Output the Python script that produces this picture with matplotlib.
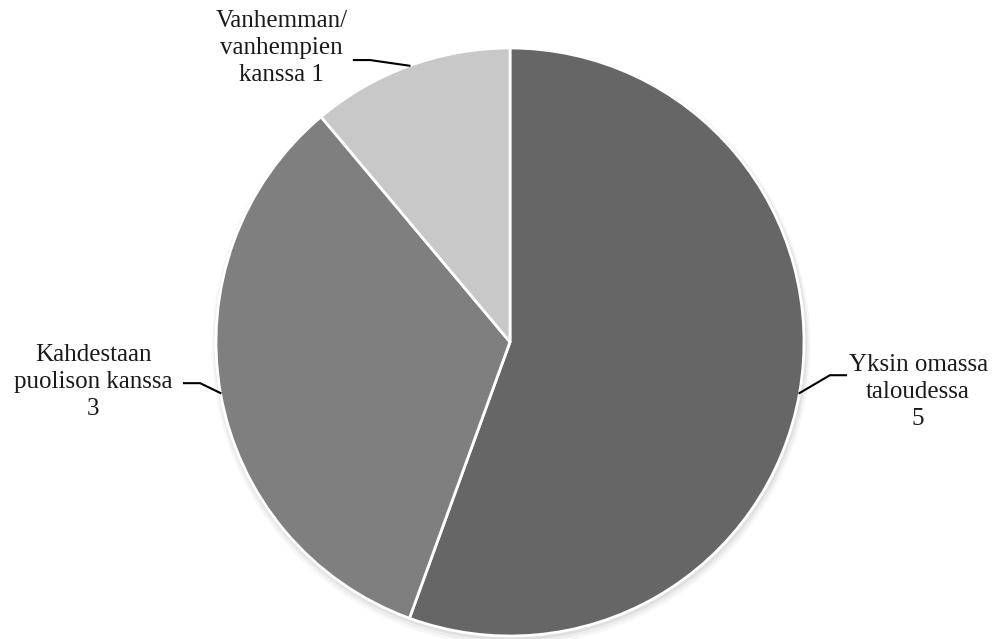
import matplotlib.pyplot as plt
import numpy as np

labels = ['Yksin omassa\ntaloudessa\n5', 'Kahdestaan\npuolison kanssa\n3', 'Vanhemman/\nvanhempien\nkanssa 1']
values = [5, 3, 1]
colors = ['#666666', '#7f7f7f', '#c8c8c8']

# label placement (data units, radius = 1) and elbow points
text_pos = [(1.388, -0.17), (-1.417, -0.135), (-0.777, 1.0)]
elbow = [(1.088, -0.113), (-1.054, -0.14), (-0.476, 0.959)]

W, H = 994, 639
fig = plt.figure(figsize=(W / 100, H / 100), dpi=100)
cx, cy, R = 510, 342, 294
ax = fig.add_axes([(cx - R) / W, (H - cy - R) / H, 2 * R / W, 2 * R / H])

# soft shadow
for i, a in enumerate([0.05, 0.04, 0.03]):
    ax.add_patch(plt.Circle((0.004, -0.008 - 0.004 * i), 1.0 + 0.006 * (i + 1),
                            color='black', alpha=a, lw=0, zorder=0, clip_on=False))

wedges, _ = ax.pie(values, colors=colors, startangle=90, counterclock=False,
                   radius=1, center=(0, 0), frame=True,
                   wedgeprops=dict(edgecolor='white', linewidth=2))
ax.set_xlim(-1, 1)
ax.set_ylim(-1, 1)
ax.set_aspect('equal')
ax.axis('off')

for w, lab, tp, el in zip(wedges, labels, text_pos, elbow):
    ang = np.deg2rad((w.theta1 + w.theta2) / 2)
    ex, ey = np.cos(ang), np.sin(ang)
    side = 1 if el[0] > 0 else -1
    ax.plot([ex, el[0], el[0] + side * 0.055], [ey, el[1], el[1]],
            color='black', lw=1.5, clip_on=False, solid_joinstyle='round')
    ax.text(tp[0], tp[1], lab, ha='center', va='center', fontsize=18,
            family='Liberation Serif', color='#1a1a1a', linespacing=1.3)

fig.savefig('out.png', dpi=100)
